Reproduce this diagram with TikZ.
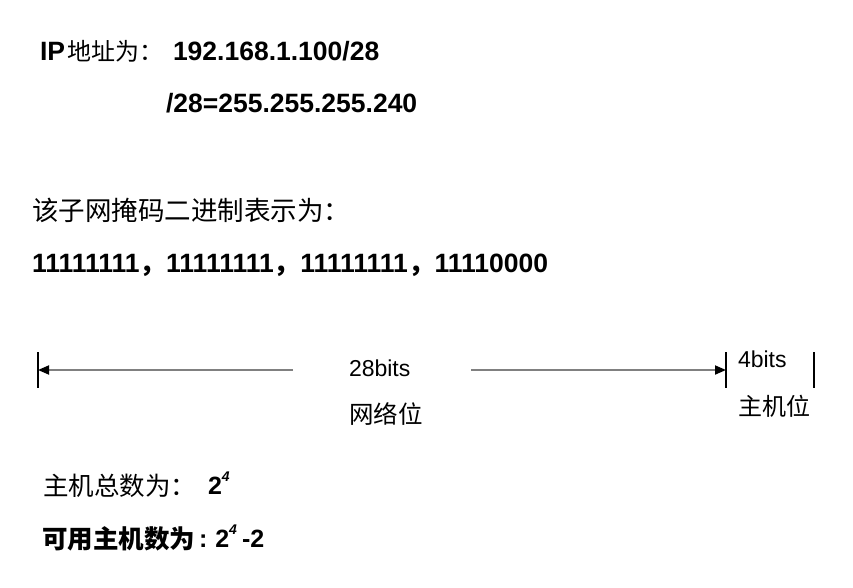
\documentclass[tikz,border=0pt]{standalone}
\usepackage{fontspec}
\setmainfont{Liberation Sans}
\newfontfamily\cjk{Noto Sans CJK SC}
\usetikzlibrary{arrows.meta}
\tikzset{
  txt/.style={anchor=base west, inner sep=0pt, outer sep=0pt},
  big/.style={txt, font=\fontsize{26.5}{30}\selectfont\bfseries},
  cn/.style={txt, font=\fontsize{24}{28}\selectfont\cjk},
  lab/.style={txt, font=\fontsize{23}{28}\selectfont},
  tick/.style={draw=black, line width=1.2pt},
  dim/.style={draw=gray, line width=1.8pt, -{Triangle[length=11pt,width=9pt,color=black]}}
}
\newcommand{\supfour}{\raisebox{0.5em}{\fontsize{14}{16}\selectfont\bfseries\itshape 4}}
\begin{document}
\begin{tikzpicture}[x=1pt,y=-1pt]
\useasboundingbox (0,0) rectangle (853,588);
% line 1
\node[big] (ip) at (40,61) {IP};
\node[cn] (ipcn) at (67,61) {地址为：};
\node[big] (addr) at (173,61) {192.168.1.100/28};
% line 2
\node[big] (mask) at (166,113) {/28=255.255.255.240};
% line 3
\node[cn, font=\fontsize{26.5}{30}\selectfont\cjk] (bin) at (32,220) {该子网掩码二进制表示为：};
% line 4
\node[big] (bits) at (32,272) {11111111{\cjk ，}11111111{\cjk ，}11111111{\cjk ，}11110000};
% dimension line
\coordinate (t1a) at (38,352); \coordinate (t1b) at (38,388);
\coordinate (t2a) at (726,352); \coordinate (t2b) at (726,388);
\coordinate (t3a) at (814,352); \coordinate (t3b) at (814,388);
\coordinate (l0) at (293,370); \coordinate (l1) at (38,370);
\coordinate (r0) at (471,370); \coordinate (r1) at (726,370);
\draw[tick] (t1a) -- (t1b);
\draw[tick] (t2a) -- (t2b);
\draw[tick] (t3a) -- (t3b);
\draw[dim] (l0) -- (l1);
\draw[dim] (r0) -- (r1);
\node[lab] (b28) at (349,376) {28bits};
\node[cn, font=\fontsize{24.5}{28}\selectfont\cjk] (net) at (349,423) {网络位};
\node[lab] (b4) at (738,367) {4bits};
\node[cn, font=\fontsize{24}{28}\selectfont\cjk] (host) at (738,415) {主机位};
% totals
\node[cn, font=\fontsize{25.5}{28}\selectfont\cjk] (tot) at (43,495) {主机总数为：};
\node[big, font=\fontsize{25}{28}\selectfont\bfseries] (p1) at (208,494) {2\supfour};
\node[cn, font=\fontsize{25.5}{28}\selectfont\cjk\bfseries] (use) at (42,548) {可用主机数为};
\node[big, font=\fontsize{25}{28}\selectfont\bfseries] (p2) at (199,547) {:\hspace{8pt}2\supfour\hspace{5pt}-2};
\end{tikzpicture}
\end{document}
